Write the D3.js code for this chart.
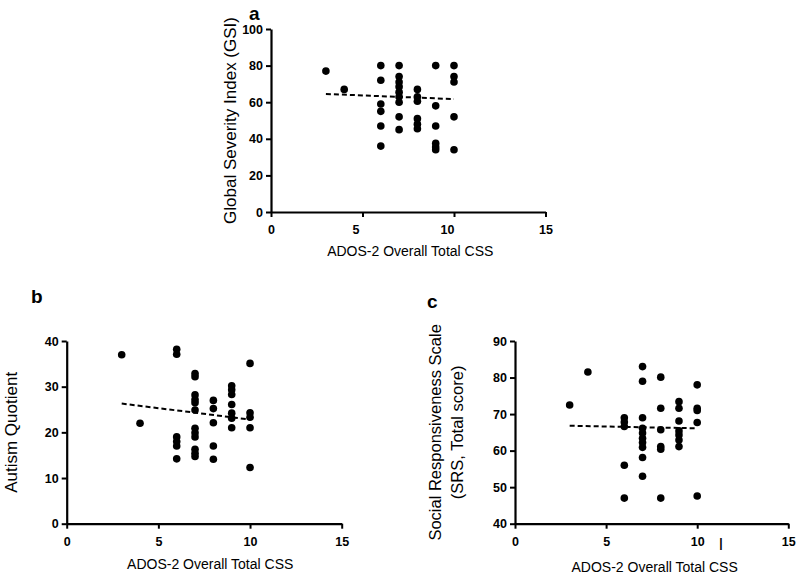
<!DOCTYPE html>
<html>
<head>
<meta charset="utf-8">
<script src="https://cdn.jsdelivr.net/npm/d3@7"></script>
<style>
  html, body { margin: 0; padding: 0; background: #fff; }
  svg { display: block; }
  text { font-family: Arial, "Liberation Sans", sans-serif; fill: #000; }
</style>
</head>
<body>
<svg id="chart" width="800" height="577"></svg>
<script>
// ---------- DATA ----------
const xTicks = [0, 5, 10, 15];

// Panel a: Global Severity Index (GSI)
const gsiX = [3, 4, 6, 6, 6, 6, 6, 6, 7, 7, 7, 7, 7, 7, 7, 7, 7, 8, 8, 8, 8, 8, 8, 9, 9, 9, 9, 9, 9, 10, 10, 10, 10, 10];
const gsiY = [77, 67, 80, 72, 59, 55, 47, 36, 80, 74, 71, 68.5, 65.5, 63, 60, 52, 45, 67, 63, 60.5, 51, 48, 45.5, 80, 58, 47, 37.5, 35.5, 34, 80, 74, 71, 52, 34];
const gsiTrendX = [3, 10];
const gsiTrendY = [64.5, 61.7];
const gsiTicks = [0, 20, 40, 60, 80, 100];

// Panel b: Autism Quotient
const aqX = [3, 4, 6, 6, 6, 6, 6, 6, 7, 7, 7, 7, 7, 7, 7, 7, 7, 7, 7, 7, 8, 8, 8, 8, 8, 9, 9, 9, 9, 9, 9, 9, 10, 10, 10, 10, 10];
const aqY = [37, 22, 38.2, 37.1, 19, 18, 17, 14.2, 32.9, 32.2, 28.2, 27.2, 26.5, 24.9, 20.9, 19.9, 19, 16.3, 15.4, 14.7, 27, 25.2, 22.1, 17, 14.1, 30.2, 29.3, 28.3, 26.1, 24.2, 23.1, 21, 35.1, 24.3, 23.3, 21, 12.3];
const aqTrendX = [3, 10];
const aqTrendY = [26.3, 22.8];
const aqTicks = [0, 10, 20, 30, 40];

// Panel c: Social Responsiveness Scale
const srsX = [3, 4, 6, 6, 6, 6, 6, 7, 7, 7, 7, 7, 7, 7, 7, 7, 7, 8, 8, 8, 8, 8, 8, 9, 9, 9, 9, 9, 9, 9, 10, 10, 10, 10, 10];
const srsY = [72.5, 81.5, 69, 67.8, 66.6, 56, 47, 83, 79, 69, 66.1, 64.8, 63.4, 62.2, 60.9, 58.1, 53, 80.1, 71.6, 65.7, 61.1, 60.4, 47, 73.4, 71.6, 68.1, 65.4, 64.3, 62.9, 61.1, 78, 71.6, 71, 67.7, 47.6];
const srsTrendX = [3, 10];
const srsTrendY = [66.8, 66.1];
const srsTicks = [40, 50, 60, 70, 80, 90];

const xTitle = "ADOS-2 Overall Total CSS";

// ---------- DRAW ----------
const svg = d3.select("#chart");

function panel(opt) {
  const x = d3.scaleLinear().domain([0, 15]).range([opt.left, opt.right]);
  const y = d3.scaleLinear().domain(opt.yDomain).range([opt.bottom, opt.top]);
  const g = svg.append("g");

  const ya = g.append("g")
    .attr("transform", `translate(${opt.left},0)`)
    .call(d3.axisLeft(y).tickValues(opt.yTicks).tickSize(5).tickSizeOuter(0).tickPadding(3).tickFormat(d3.format("d")));
  const xa = g.append("g")
    .attr("transform", `translate(0,${opt.bottom})`)
    .call(d3.axisBottom(x).tickValues(xTicks).tickSize(5).tickSizeOuter(0).tickPadding(8).tickFormat(d3.format("d")));

  [ya, xa].forEach(a => {
    a.select(".domain").attr("stroke", "#000").attr("stroke-width", 2.2);
    a.selectAll(".tick line").attr("stroke", "#000").attr("stroke-width", 2);
    a.selectAll(".tick text")
      .attr("font-family", "Arial, 'Liberation Sans', sans-serif")
      .attr("font-size", 12.5).attr("font-weight", "bold").attr("fill", "#000");
  });
  if (opt.xLabelShift) {
    xa.selectAll(".tick text").attr("dx", d => (d === 5 || d === 10) ? opt.xLabelShift : 0);
  }

  g.append("g").selectAll("circle")
    .data(opt.xs.map((v, i) => [v, opt.ys[i]]))
    .join("circle")
    .attr("cx", d => x(d[0]))
    .attr("cy", d => y(d[1]))
    .attr("r", 3.8)
    .attr("fill", "#000");

  const line = d3.line().x(d => x(d[0])).y(d => y(d[1]));
  g.append("path")
    .datum(opt.tx.map((v, i) => [v, opt.ty[i]]))
    .attr("d", line)
    .attr("fill", "none")
    .attr("stroke", "#000")
    .attr("stroke-width", 2)
    .attr("stroke-dasharray", "5,3");

  g.append("text")
    .attr("x", (opt.left + opt.right) / 2 + (opt.xTitleDx || 0))
    .attr("y", opt.xTitleY)
    .attr("text-anchor", "middle")
    .attr("font-size", 14)
    .text(xTitle);

  const yc = (opt.top + opt.bottom) / 2;
  opt.yTitle.forEach((t, i) => {
    g.append("text")
      .attr("transform", `translate(${opt.yTitleX[i]},${yc}) rotate(-90)`)
      .attr("text-anchor", "middle")
      .attr("font-size", opt.yTitleSize)
      .text(t);
  });

  g.append("text")
    .attr("x", opt.letterX).attr("y", opt.letterY)
    .attr("font-size", 19).attr("font-weight", "bold")
    .text(opt.letter);
  return { x, y, g };
}

panel({
  left: 271, right: 545.5, top: 29, bottom: 212,
  yDomain: [0, 100], yTicks: gsiTicks,
  xs: gsiX, ys: gsiY, tx: gsiTrendX, ty: gsiTrendY,
  xTitleY: 256, xTitleDx: 2,
  yTitle: ["Global Severity Index (GSI)"], yTitleX: [236], yTitleSize: 17,
  letter: "a", letterX: 249, letterY: 20,
  xLabelShift: -7
});

panel({
  left: 66.7, right: 341.7, top: 341, bottom: 523.7,
  yDomain: [0, 40], yTicks: aqTicks,
  xs: aqX, ys: aqY, tx: aqTrendX, ty: aqTrendY,
  xTitleY: 569, xTitleDx: 6,
  yTitle: ["Autism Quotient"], yTitleX: [17], yTitleSize: 17,
  letter: "b", letterX: 31, letterY: 303
});

const pc = panel({
  left: 515, right: 788.3, top: 341, bottom: 523.7,
  yDomain: [40, 90], yTicks: srsTicks,
  xs: srsX, ys: srsY, tx: srsTrendX, ty: srsTrendY,
  xTitleY: 572, xTitleDx: 3,
  yTitle: ["Social Responsiveness Scale", "(SRS, Total score)"], yTitleX: [441, 463], yTitleSize: 16.5,
  letter: "c", letterX: 427, letterY: 308
});

pc.g.append("text")
  .attr("x", pc.x(11.3)).attr("y", 547)
  .attr("text-anchor", "middle")
  .attr("font-size", 12).attr("font-weight", "bold")
  .text("|");
</script>
</body>
</html>
